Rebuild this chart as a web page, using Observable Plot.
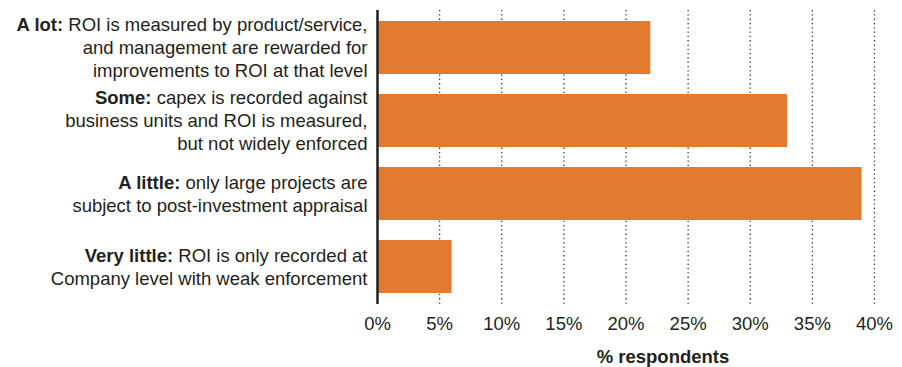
<!DOCTYPE html>
<html>
<head>
<meta charset="utf-8">
<script src="https://cdn.jsdelivr.net/npm/d3@7"></script>
<script src="https://cdn.jsdelivr.net/npm/@observablehq/plot@0.6"></script>
<style>
  html, body { margin: 0; padding: 0; background: #fff; }
  svg { font-family: "Liberation Sans", Arial, Helvetica, sans-serif; }
</style>
</head>
<body>
<div id="chart"></div>
<script>
const categories = ["A lot", "Some", "A little", "Very little"];
const prefixes = ["A lot:", "Some:", "A little:", "Very little:"];
const descriptions = [
  "ROI is measured by product/service,\nand management are rewarded for\nimprovements to ROI at that level",
  "capex is recorded against\nbusiness units and ROI is measured,\nbut not widely enforced",
  "only large projects are\nsubject to post-investment appraisal",
  "ROI is only recorded at\nCompany level with weak enforcement"
];
const values = [22, 33, 39, 6];
const xTicks = [0, 5, 10, 15, 20, 25, 30, 35, 40];
const xLabel = "% respondents";

const data = categories.map((c, i) => ({
  category: c,
  prefix: prefixes[i],
  label: prefixes[i] + " " + descriptions[i],
  value: values[i]
}));

const textColor = "#231f20";
const orange = "#e27b2f";
const fs = 18.5;

const chart = Plot.plot({
  width: 902,
  height: 367,
  marginLeft: 377,
  marginRight: 28,
  marginTop: 10,
  marginBottom: 63,
  style: { fontFamily: '"Liberation Sans", Arial, Helvetica, sans-serif', color: textColor, background: "#fff" },
  x: { domain: [0, 40], ticks: xTicks, tickFormat: d => d + "%", label: null },
  y: { domain: categories, paddingInner: 0.27, paddingOuter: 0.14, axis: null },
  marks: [
    Plot.gridX(xTicks.filter(d => d > 0), { stroke: "#333", strokeOpacity: 1, strokeWidth: 1.3, strokeDasharray: "1.3,3" }),
    Plot.barX(data, { x: "value", y: "category", fill: orange }),
    Plot.ruleX([0], { stroke: textColor, strokeWidth: 2.5 }),
    Plot.axisX({ ticks: xTicks, tickFormat: d => d + "%", tickSize: 0, tickPadding: 12, fontSize: fs, fill: textColor, label: null }),
    Plot.text(data, {
      x: () => 0, y: "category", text: "label", textAnchor: "end", dx: -10, dy: -1,
      fontSize: fs, lineHeight: 1.24, fill: textColor
    }),
    Plot.text([xLabel], { frameAnchor: "bottom", dx: 37, dy: 58, fontSize: fs, fontWeight: "bold", fill: textColor })
  ]
});

document.getElementById("chart").appendChild(chart);

// Make the category prefix bold in the first line of each label
const ns = "http://www.w3.org/2000/svg";
chart.querySelectorAll("text").forEach(t => {
  const spans = t.querySelectorAll("tspan");
  const first = spans.length ? spans[0] : t;
  const content = first.textContent;
  const pre = prefixes.find(p => content.startsWith(p + " "));
  if (!pre) return;
  const rest = content.slice(pre.length);
  first.textContent = "";
  const b = document.createElementNS(ns, "tspan");
  b.setAttribute("font-weight", "bold");
  b.textContent = pre;
  first.appendChild(b);
  first.appendChild(document.createTextNode(rest));
});
</script>
</body>
</html>
